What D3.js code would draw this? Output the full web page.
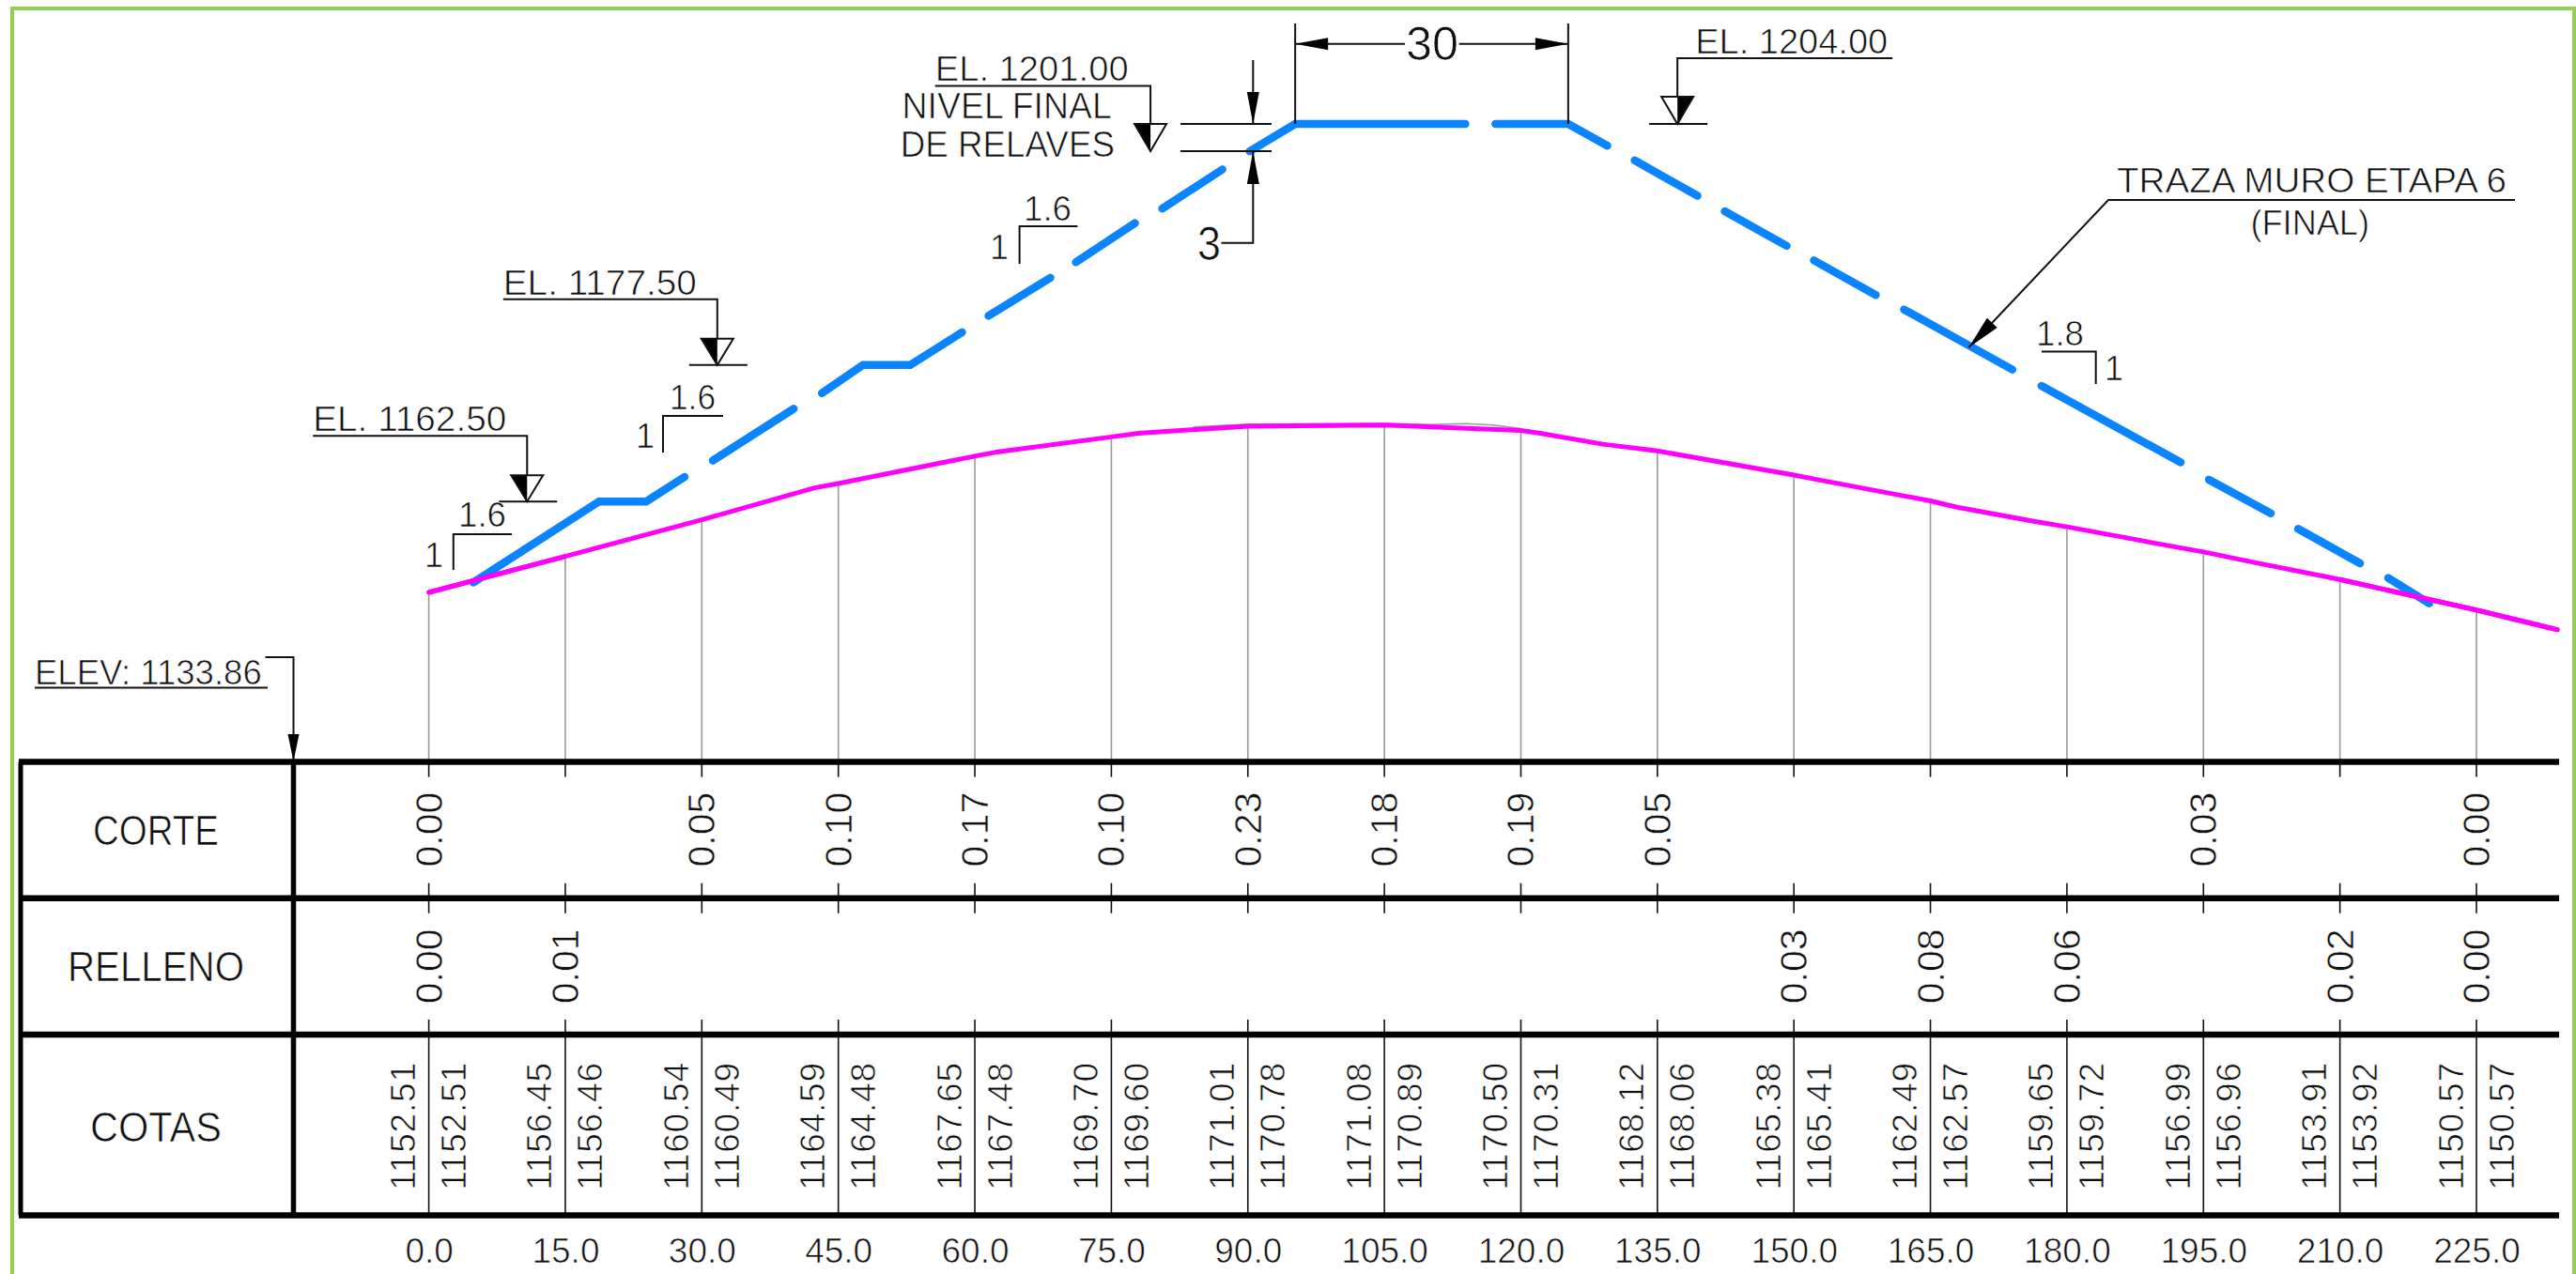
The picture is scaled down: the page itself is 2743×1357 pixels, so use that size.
<!DOCTYPE html>
<html><head><meta charset="utf-8">
<script src="https://cdn.jsdelivr.net/npm/d3@7/dist/d3.min.js"></script>
<style>html,body{margin:0;padding:0;background:#fff}svg{display:block}text{stroke:#fff;stroke-width:.7px}</style></head>
<body><svg id="c" width="2743" height="1357"></svg>
<script>
const stations=[0,15,30,45,60,75,90,105,120,135,150,165,180,195,210,225];
const corte=[0.00,null,0.05,0.10,0.17,0.10,0.23,0.18,0.19,0.05,null,null,null,0.03,null,0.00];
const relleno=[0.00,0.01,null,null,null,null,null,null,null,null,0.03,0.08,0.06,null,0.02,0.00];
const cotasA=["1152.51","1156.45","1160.54","1164.59","1167.65","1169.70","1171.01","1171.08","1170.50","1168.12","1165.38","1162.49","1159.65","1156.99","1153.91","1150.57"];
const cotasB=["1152.51","1156.46","1160.49","1164.48","1167.48","1169.60","1170.78","1170.89","1170.31","1168.06","1165.41","1162.57","1159.72","1156.96","1153.92","1150.57"];
const terrainLine=[[0,1152.51],[15,1156.46],[30,1160.49],[42.4,1164.0],[45,1164.48],[60,1167.48],[62.2,1167.9],[75,1169.6],[78,1170.0],[90,1170.78],[105,1170.89],[120,1170.31],[122.1,1170.0],[129,1168.8],[135,1168.06],[150,1165.41],[152.6,1164.9],[165,1162.57],[167.8,1161.9],[176.5,1160.3],[180,1159.72],[191.4,1157.6],[195,1156.96],[200.1,1155.9],[210,1153.92],[225,1150.57],[233.9,1148.4]];
const originalGround=[[84,1170.7],[90,1171.01],[105,1171.08],[110,1170.95],[114,1171.06],[117,1170.9],[120,1170.5]];
const wallSegments=[
 [[4.9,1153.6],[18.7,1162.5],[23.9,1162.5],[28.1,1165.2]],
 [[31.2,1167.0],[40.1,1172.7]],
 [[43.2,1174.4],[47.7,1177.5],[52.9,1177.5],[58.6,1181.1]],
 [[61.5,1182.9],[68.3,1187.1]],
 [[71.1,1188.8],[77.6,1193.1]],
 [[80.6,1194.7],[87.2,1199.0]],
 [[90.2,1201.0],[95.2,1204],[113.9,1204]],
 [[117.2,1204],[125.2,1204],[129.5,1201.6]],
 [[132.5,1200.0],[139.4,1196.1]],
 [[142.4,1194.4],[149.2,1190.6]],
 [[152.2,1189.0],[159.0,1185.2]],
 [[162.1,1183.6],[174.0,1177.0]],
 [[177.2,1175.2],[192.5,1166.8]],
 [[195.6,1164.9],[202.4,1161.2]],
 [[205.4,1159.5],[212.2,1155.7]],
 [[215.3,1154.1],[219.8,1151.3]]
];
const rowLabels=["CORTE","RELLENO","COTAS"];

const svg=d3.select("#c");
const x=d3.scaleLinear().domain([0,225]).range([456.6,2637]);
const y=d3.scaleLinear().domain([1133.86,1204]).range([811.7,132]);
const SANS="'Liberation Sans',Arial,sans-serif", NARROW="'Liberation Sans Narrow','Liberation Sans',sans-serif";
const INK="#111";
const rows={top:811.6,a:956.7,b:1102,bot:1294.5};

function line(pts,w=2,c="#111"){svg.append("path").attr("d",d3.line()(pts)).attr("fill","none").attr("stroke",c).attr("stroke-width",w);}
function poly(pts,fill="#000",stroke="none",sw=0){svg.append("path").attr("d",d3.line()(pts)+"Z").attr("fill",fill).attr("stroke",stroke).attr("stroke-width",sw).attr("stroke-linejoin","miter");}
function fit(str,x0,x1,base,size){svg.append("text").text(str).attr("x",x0).attr("y",base).attr("font-family",NARROW).attr("font-size",size).attr("fill",INK).attr("textLength",x1-x0).attr("lengthAdjust","spacingAndGlyphs");}
function mid(str,cx,base,size){svg.append("text").text(str).attr("x",cx).attr("y",base).attr("text-anchor","middle").attr("font-family",NARROW).attr("font-size",size).attr("fill",INK);}
function vert(str,cx,cy,size,ls=0){svg.append("text").text(str).attr("transform",`translate(${cx},${cy}) rotate(-90)`).attr("text-anchor","middle").attr("dominant-baseline","central").attr("font-family",SANS).attr("font-size",size).attr("letter-spacing",ls).attr("fill",INK);}
function arrow(tip,dir,len,hw){const [a,b]=tip,[u,v]=dir;poly([[a,b],[a-u*len-v*hw,b-v*len+u*hw],[a-u*len+v*hw,b-v*len-u*hw]]);}

// page frame
line([[13,1357],[13,9],[2741,9],[2741,1357]],4,"#92D050");

// station risers
const terrainAt=s=>terrainLine.find(d=>d[0]===s)[1];
svg.append("g").selectAll("line").data(stations).join("line")
 .attr("x1",d=>x(d)).attr("x2",d=>x(d)).attr("y1",d=>y(terrainAt(d))).attr("y2",rows.top)
 .attr("stroke","#9a9a9a").attr("stroke-width",1.6);

// table ticks
const tickSpans=[[rows.top,rows.top+16],[rows.a-16,rows.a+16],[rows.b-16,rows.b],[rows.b,rows.bot]];
tickSpans.forEach(([a,b])=>svg.append("g").selectAll("line").data(stations).join("line")
 .attr("x1",d=>x(d)).attr("x2",d=>x(d)).attr("y1",a).attr("y2",b).attr("stroke","#111").attr("stroke-width",1.6));

// table rules
[rows.top,rows.a,rows.b,rows.bot].forEach(r=>line([[20,r],[2725,r]],6.5,"#000"));
line([[22,rows.top],[22,rows.bot]],5,"#000");
line([[312.5,rows.top],[312.5,rows.bot]],5.5,"#000");

// row labels
[[134,883.5],[188,1029],[140,1200]].forEach(([w,cy],i)=>{
  const s=rowLabels[i];fit(s,166-w/2,166+w/2,cy+16,44);
});

// table values
stations.forEach((s,i)=>{
  if(corte[i]!==null)vert(corte[i].toFixed(2),x(s),883.6,41);
  if(relleno[i]!==null)vert(relleno[i].toFixed(2),x(s),1029.4,41);
  vert(cotasA[i],x(s)-27,1199.5,37,0.8);
  vert(cotasB[i],x(s)+27,1199.5,37,0.8);
});

// station axis
const ax=d3.axisBottom(x).tickValues(stations).tickFormat(d3.format(".1f")).tickSize(0).tickPadding(0);
const axG=svg.append("g").attr("transform","translate(0,1318)").call(ax);
axG.select(".domain").remove();
axG.selectAll("text").attr("font-family",SANS).attr("font-size",37).attr("fill",INK).attr("dy","0.73em").attr("y",0);

// ground
const gen=d3.line().x(d=>x(d[0])).y(d=>y(d[1]));
svg.append("path").attr("d",gen(originalGround)).attr("fill","none").attr("stroke","#9a9a9a").attr("stroke-width",1.6);
svg.append("path").attr("d",gen(terrainLine)).attr("fill","none").attr("stroke","#FF00FF").attr("stroke-width",5).attr("stroke-linejoin","round").attr("stroke-linecap","round");

// wall
svg.append("g").selectAll("path").data(wallSegments).join("path").attr("d",gen)
 .attr("fill","none").attr("stroke","#0A84FF").attr("stroke-width",8.5).attr("stroke-linecap","round").attr("stroke-linejoin","miter");
// ground is drawn over the wall toe
svg.append("path").attr("d",gen(terrainLine.filter(d=>d[0]>=0&&d[0]<=15))).attr("fill","none").attr("stroke","#FF00FF").attr("stroke-width",5);
svg.append("path").attr("d",gen(terrainLine.filter(d=>d[0]>=210))).attr("fill","none").attr("stroke","#FF00FF").attr("stroke-width",5);

// elevation markers
const lefts=[{label:"EL. 1162.50",el:1162.5,st:10.8},{label:"EL. 1177.50",el:1177.5,st:31.7}];
lefts.forEach(m=>{
  const ax=x(m.st),ay=y(m.el);
  line([[ax-228,ay-70],[ax,ay-70],[ax,ay-28]],2);
  poly([[ax-17,ay-28],[ax,ay-28],[ax,ay]],"#000");
  poly([[ax-17,ay-28],[ax+17,ay-28],[ax,ay]],"none","#111",2);
  line([[ax-30,ay],[ax+32,ay]],2);
  fit(m.label,ax-228,ax-22,ay-75,36);
});
{ // crest elevation, mirrored
  const ax=x(137.2),ay=y(1204);
  line([[ax+229,ay-70],[ax,ay-70],[ax,ay-29]],2);
  poly([[ax+17,ay-29],[ax,ay-29],[ax,ay]],"#000");
  poly([[ax-17,ay-29],[ax+17,ay-29],[ax,ay]],"none","#111",2);
  line([[ax-30,ay],[ax+32,ay]],2);
  fit("EL. 1204.00",ax+19,ax+224,ay-75,36);
}
{ // tailings level
  const ax=x(79.3),ay=y(1201);
  line([[995.7,91.5],[ax,91.5],[ax,ay-29]],2);
  poly([[ax-17,ay-29],[ax,ay-29],[ax,ay]],"#000");
  poly([[ax-17,ay-29],[ax+17,ay-29],[ax,ay]],"none","#111",2);
  fit("EL. 1201.00",995.7,1201.7,86,36);
  fit("NIVEL FINAL",960.6,1183.8,125.5,38);
  fit("DE RELAVES",958.7,1187,167,38);
}

// dimension 3
{
  const yT=y(1204),yB=y(1201),dx=1334.3;
  line([[1257,yT],[1354,yT]],2);line([[1257,yB],[1354,yB]],2);
  line([[dx,64],[dx,yT]],2);arrow([dx,yT],[0,1],34,6.5);
  line([[dx,yB],[dx,258.7],[1300.5,258.7]],2);arrow([dx,yB],[0,-1],35,6.5);
  fit("3",1275,1300,277,50);
}
// dimension 30
{
  const xa=x(95.2),xb=x(125.2),yT=y(1204);
  line([[xa,25],[xa,yT]],2);line([[xb,25],[xb,yT]],2);
  line([[xa,46.7],[1496,46.7]],2);line([[1553.7,46.7],[xb,46.7]],2);
  arrow([xa,46.7],[-1,0],35,6.5);arrow([xb,46.7],[1,0],35,6.5);
  fit("30",1497,1553,63.5,50);
}

// slope symbols
[[482.8,569,545,607,488,539,561,462,603.6,"1.6"],[706,443,770,482,713,762,436,687,477,"1.6"],[1085.6,241,1147.4,281,1090,1141,234.6,1064,275.5,"1.6"]]
.forEach(([cx,cy,rx,by,t0,t1,tb,ox,ob,s])=>{
  line([[rx,cy],[cx,cy],[cx,by]],2);
  fit(s,t0,t1,tb,36);mid("1",ox,ob,36);
});
line([[2174,374.5],[2231.7,374.5],[2231.7,409]],2);
fit("1.8",2168,2219,368,36);mid("1",2251,405,36);

// wall callout
line([[2678,213],[2245,213],[2096.5,370]],2);
{const dx=2245-2096.5,dy=213-370,L=Math.hypot(dx,dy);arrow([2096.5,370],[-dx/L,-dy/L],36,7.5);}
fit("TRAZA MURO ETAPA 6",2254,2669,205,36);
fit("(FINAL)",2396.5,2523,249.5,36);

// datum
line([[37,732.6],[285,732.6]],2);
line([[282.5,700],[312.5,700],[312.5,808]],2);
arrow([312.5,811],[0,1],29,6);
fit("ELEV: 1133.86",37,278.7,728.6,36);
</script></body></html>
